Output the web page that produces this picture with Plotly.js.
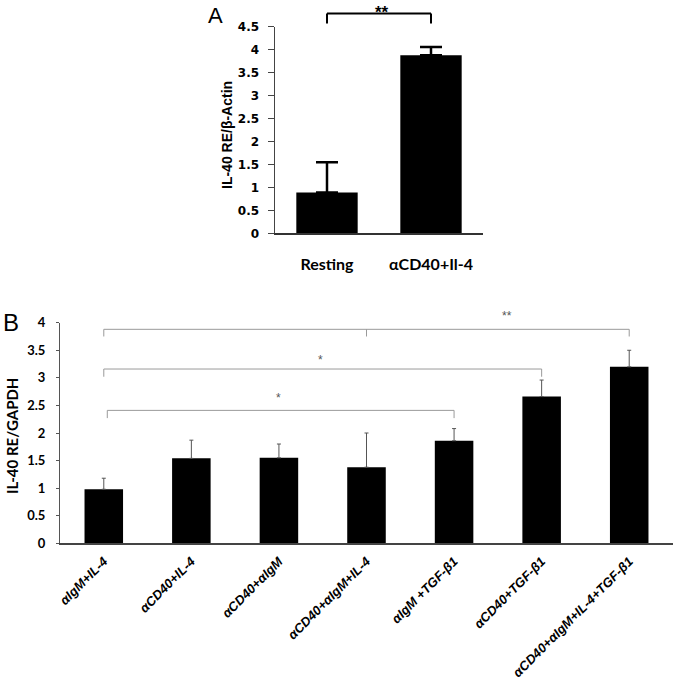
<!DOCTYPE html>
<html>
<head>
<meta charset="utf-8">
<script src="https://cdn.plot.ly/plotly-3.0.1.min.js"></script>
<style>html,body{margin:0;padding:0;background:#fff}#chart{width:677px;height:683px}</style>
</head>
<body>
<div id="chart"></div>
<script>
// Panel A data
var catsA = ['Resting', 'αCD40+Il-4'];
var valsA = [0.89, 3.88];
var errA = [0.66, 0.18];
var yTicksA = [0, 0.5, 1, 1.5, 2, 2.5, 3, 3.5, 4, 4.5];

// Panel B data
var catsB = ['αIgM+IL-4', 'αCD40+IL-4', 'αCD40+αIgM', 'αCD40+αIgM+IL-4', 'αIgM +TGF-β1', 'αCD40+TGF-β1', 'αCD40+αIgM+IL-4+TGF-β1'];
var valsB = [0.98, 1.54, 1.55, 1.38, 1.86, 2.66, 3.20];
var errB = [0.20, 0.33, 0.25, 0.62, 0.22, 0.30, 0.30];
var yTicksB = [0, 0.5, 1, 1.5, 2, 2.5, 3, 3.5, 4];

// significance brackets: [fromIdx, toIdx, level, dropLevel, midIdx|null]
var bracketsA = [[0, 1, 4.79, 4.57, null]];
var starsA = [['**', 0.53, 5.07]];
var bracketsB = [[0, 6, 3.88, 3.75, 3], [0, 5, 3.16, 3.02, null], [0.04, 4, 2.41, 2.27, null]];
var starsB = [['**', 4.61, 4.12], ['*', 2.47, 3.33], ['*', 2.0, 2.64]];

var W = 677, H = 683;
var domAx = [275 / W, 483 / W], domAy = [1 - 233.3 / H, 1 - 26.7 / H];
var domBx = [60 / W, 673 / W], domBy = [1 - 543.3 / H, 1 - 322.7 / H];
var rangeAy = [0, 4.5], rangeBy = [0, 4];
var rangeAx = [-0.5, catsA.length - 0.5], rangeBx = [-0.5, catsB.length - 0.5];
function toPaper(dom, rng, v) { return dom[0] + (v - rng[0]) / (rng[1] - rng[0]) * (dom[1] - dom[0]); }

var shapes = [], annotations = [];
function addBrackets(list, dx, rx, dy, ry, color, w) {
  list.forEach(function (b) {
    var x0 = toPaper(dx, rx, b[0]), x1 = toPaper(dx, rx, b[1]);
    var y = toPaper(dy, ry, b[2]), yd = toPaper(dy, ry, b[3]);
    var ln = {color: color, width: w};
    shapes.push({type: 'line', xref: 'paper', yref: 'paper', x0: x0, x1: x1, y0: y, y1: y, line: ln});
    shapes.push({type: 'line', xref: 'paper', yref: 'paper', x0: x0, x1: x0, y0: y, y1: yd, line: ln});
    shapes.push({type: 'line', xref: 'paper', yref: 'paper', x0: x1, x1: x1, y0: y, y1: yd, line: ln});
    if (b[4] !== null) {
      var xm = toPaper(dx, rx, b[4]);
      shapes.push({type: 'line', xref: 'paper', yref: 'paper', x0: xm, x1: xm, y0: y, y1: yd, line: ln});
    }
  });
}
addBrackets(bracketsA, domAx, rangeAx, domAy, rangeAy, '#000', 2);
addBrackets(bracketsB, domBx, rangeBx, domBy, rangeBy, '#9a9a9a', 1);
starsA.forEach(function (s) {
  annotations.push({text: s[0], xref: 'paper', yref: 'paper', x: toPaper(domAx, rangeAx, s[1]), y: Math.min(1, toPaper(domAy, rangeAy, s[2])),
    showarrow: false, xanchor: 'center', yanchor: 'top', font: {family: 'Liberation Sans', size: 17, color: '#000', weight: 'bold'}});
});
starsB.forEach(function (s) {
  annotations.push({text: s[0], xref: 'paper', yref: 'paper', x: toPaper(domBx, rangeBx, s[1]), y: toPaper(domBy, rangeBy, s[2]),
    showarrow: false, xanchor: 'center', yanchor: 'middle', font: {family: 'Liberation Sans', size: 12, color: '#555'}});
});
// panel letters and axis titles
annotations.push({text: 'A', xref: 'paper', yref: 'paper', x: 206 / W, y: 1 - 1 / H, xanchor: 'left', yanchor: 'top', showarrow: false,
  font: {family: 'Liberation Sans', size: 22, color: '#000'}});
annotations.push({text: 'B', xref: 'paper', yref: 'paper', x: 1 / W, y: 1 - 307 / H, xanchor: 'left', yanchor: 'top', showarrow: false,
  font: {family: 'Liberation Sans', size: 24, color: '#000'}});
annotations.push({text: 'IL-40 RE/β-Actin', xref: 'paper', yref: 'paper', x: 227 / W, y: 1 - 135 / H, textangle: -90, showarrow: false,
  xanchor: 'center', yanchor: 'middle', font: {family: 'Liberation Sans', size: 14, color: '#000', weight: 'bold'}});
annotations.push({text: 'IL-40 RE/GAPDH', xref: 'paper', yref: 'paper', x: 12 / W, y: 1 - 436 / H, textangle: -90, showarrow: false,
  xanchor: 'center', yanchor: 'middle', font: {family: 'Lato', size: 15, color: '#000', weight: 'bold'}});

var traceA = {type: 'bar', x: catsA, y: valsA, xaxis: 'x', yaxis: 'y', width: 0.59,
  marker: {color: '#000', line: {width: 0}},
  error_y: {type: 'data', array: errA, arrayminus: errA.map(function () { return 0; }), visible: true, color: '#000', thickness: 2.5, width: 11}};
var traceB = {type: 'bar', x: catsB, y: valsB, xaxis: 'x2', yaxis: 'y2', width: 0.44,
  marker: {color: '#000', line: {width: 0}},
  error_y: {type: 'data', array: errB, arrayminus: errB.map(function () { return 0; }), visible: true, color: '#555', thickness: 1, width: 2}};

var layout = {
  width: W, height: H, margin: {l: 0, r: 0, t: 0, b: 0}, showlegend: false,
  paper_bgcolor: '#fff', plot_bgcolor: '#fff',
  xaxis: {domain: domAx, anchor: 'y', type: 'category', range: rangeAx, showline: true, linecolor: '#333', linewidth: 2,
    ticks: '', showgrid: false, zeroline: false, ticklabelstandoff: 15,
    tickfont: {family: 'Lato', size: 16, color: '#000', weight: 'bold'}},
  yaxis: {domain: domAy, anchor: 'x', range: rangeAy, tickvals: yTicksA, ticktext: yTicksA.map(String), showline: true, linecolor: '#444', linewidth: 1.5,
    ticks: 'outside', ticklen: 6, tickcolor: '#444', tickwidth: 1.5, showgrid: false, zeroline: false, ticklabelstandoff: 6,
    tickfont: {family: 'DejaVu Sans', size: 12, color: '#000', weight: 'bold'}},
  xaxis2: {domain: domBx, anchor: 'y2', type: 'category', range: rangeBx, showline: true, linecolor: '#444', linewidth: 1.5,
    ticks: '', showgrid: false, zeroline: false, tickangle: -45, ticklabelstandoff: 4,
    tickfont: {family: 'Liberation Sans', size: 13, color: '#000', style: 'italic', weight: 'bold'}},
  yaxis2: {domain: domBy, anchor: 'x2', range: rangeBy, tickvals: yTicksB, ticktext: yTicksB.map(String), showline: true, linecolor: '#555', linewidth: 1,
    ticks: 'outside', ticklen: 3, tickcolor: '#555', tickwidth: 1, showgrid: false, zeroline: false, ticklabelstandoff: 8,
    tickfont: {family: 'Lato', size: 13, color: '#000', weight: 'bold'}},
  shapes: shapes, annotations: annotations
};
Plotly.newPlot('chart', [traceA, traceB], layout, {staticPlot: true, displayModeBar: false});
</script>
</body>
</html>
